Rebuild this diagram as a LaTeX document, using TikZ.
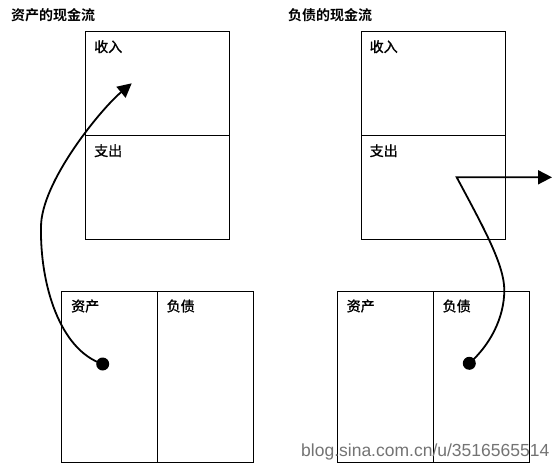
\documentclass[tikz,border=0pt]{standalone}
\usepackage{fontspec}
\setmainfont{Liberation Sans}
\newfontfamily\cjk{Noto Sans CJK SC}[BoldFont={Noto Sans CJK SC Bold}]
\newfontfamily\cjkm{Noto Sans CJK SC}[FakeBold=1.3]
\usetikzlibrary{arrows.meta}
\begin{document}
\begin{tikzpicture}[x=1pt,y=-1pt,
  cell/.style={draw, line width=1.1pt, inner sep=0pt, minimum width=#1},
  title/.style={anchor=west, inner sep=0pt, font=\cjk\bfseries\fontsize{14}{14}\selectfont},
  lab/.style={anchor=west, inner sep=0pt, font=\cjkm\fontsize{14}{14}\selectfont},
  flow/.style={line width=1.8pt},
  dotnode/.style={circle, fill=black, inner sep=0pt, minimum size=13pt},
  tip/.style={-{Triangle[length=14pt,width=14pt]}}]
\useasboundingbox (0,0) rectangle (554,465);
% titles
\node[title] (t1) at (11,15) {资产的现金流};
\node[title] (t2) at (288,15) {负债的现金流};
% cash-flow boxes
\node[cell=144pt, minimum height=104pt] (in1) at (157.5,83.3) {};
\node[cell=144pt, minimum height=103.7pt] (out1) at (157.5,187.2) {};
\node[cell=144pt, minimum height=104pt] (in2) at (433.3,83.3) {};
\node[cell=144pt, minimum height=103.7pt] (out2) at (433.3,187.2) {};
\node[lab] (l1) at (94,46.7) {收入};
\node[lab] (l2) at (94,150.7) {支出};
\node[lab] (l3) at (369.5,46.7) {收入};
\node[lab] (l4) at (369.5,150.7) {支出};
% balance sheets
\node[cell=95.7pt, minimum height=170.7pt] (a1) at (109.2,376.7) {};
\node[cell=96.3pt, minimum height=170.7pt] (d1) at (205.2,376.7) {};
\node[cell=96pt, minimum height=170.7pt] (a2) at (385.3,376.7) {};
\node[cell=96pt, minimum height=170.7pt] (d2) at (481.3,376.7) {};
\node[lab] (l5) at (71,306) {资产};
\node[lab] (l6) at (166.5,306) {负债};
\node[lab] (l7) at (346.5,306) {资产};
\node[lab] (l8) at (442.5,306) {负债};
% dots
\node[dotnode] (p1) at (102.7,364) {};
\node[dotnode] (p2) at (469.3,363.3) {};
% curve points
\coordinate (k1) at (41,227);
\coordinate (e1) at (131.7,83.3);
\coordinate (k2) at (504.3,290);
\coordinate (c2) at (456.7,177.3);
\coordinate (e2) at (552,177.3);
% connectors
\draw[flow, tip] (p1.center) .. controls (60,350) and (40,285) .. (k1)
   .. controls (41,182) and (100.9,109.1) .. (e1);
\draw[flow, tip, line join=miter] (p2.center) .. controls (490,345) and (504.3,318) .. (k2)
   .. controls (504.3,265) and (483.7,227.7) .. (c2) -- (e2);
% watermark
\node[anchor=west, inner sep=0pt, text=black!55, font=\fontsize{17.5}{17.5}\selectfont] (wm) at (301,451.5) {blog.sina.com.cn/u/3516565514};
\end{tikzpicture}
\end{document}
